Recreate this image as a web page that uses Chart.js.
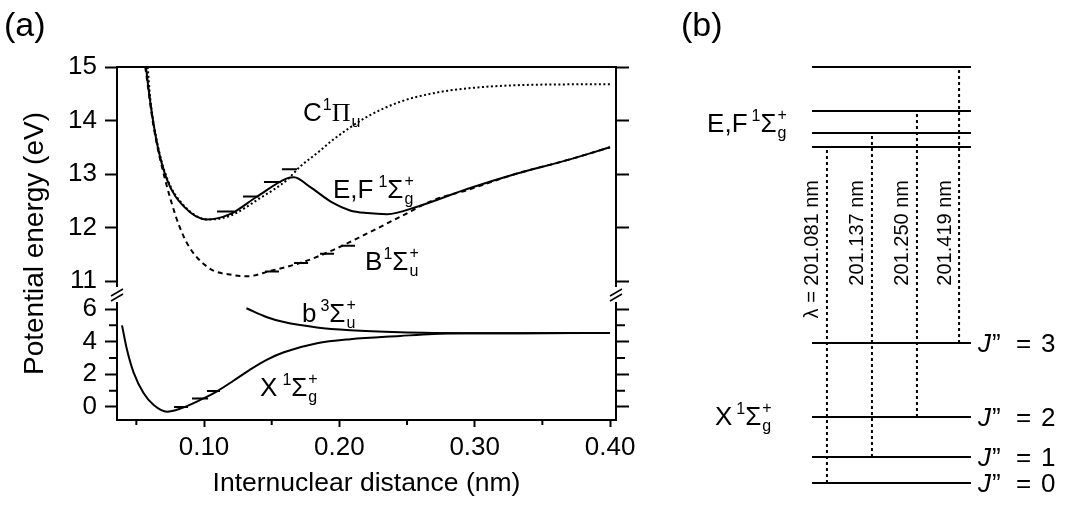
<!DOCTYPE html>
<html>
<head>
<meta charset="utf-8">
<script src="https://cdn.jsdelivr.net/npm/chart.js@4.4.0/dist/chart.umd.min.js"></script>
<style>
  body { margin: 0; background: #fff; }
  #wrap { position: relative; width: 1067px; height: 505px; }
  canvas { position: absolute; top: 0; }
  #curves { left: 0; }
  #levels { left: 680px; }
</style>
</head>
<body>
<div id="wrap">
  <canvas id="curves" width="680" height="505"></canvas>
  <canvas id="levels" width="387" height="505"></canvas>
</div>
<script>
// ---- (a) H2 potential curves: r in nm, energy in eV ----
const efR = [0.0571, 0.0601, 0.0653, 0.0727, 0.0852, 0.1022, 0.1192, 0.1392, 0.1613, 0.1665, 0.1783, 0.1953, 0.2079, 0.2205, 0.2353, 0.2574, 0.2944, 0.3313, 0.3683, 0.4000];
const efE = [15.0, 14.38, 13.57, 12.89, 12.39, 12.15, 12.25, 12.58, 12.92, 12.94, 12.76, 12.46, 12.32, 12.27, 12.25, 12.39, 12.72, 13.01, 13.26, 13.50];

const cR = [0.0584, 0.0603, 0.0653, 0.0727, 0.0852, 0.1030, 0.1192, 0.1414, 0.1613, 0.1710, 0.1835, 0.1953, 0.2205, 0.2449, 0.2693, 0.2944, 0.3313, 0.4000];
const cE = [15.0, 14.40, 13.60, 12.92, 12.41, 12.15, 12.22, 12.55, 12.89, 13.14, 13.39, 13.64, 14.07, 14.35, 14.51, 14.60, 14.66, 14.68];

const bR = [0.0566, 0.0628, 0.0727, 0.0850, 0.1022, 0.1220, 0.1318, 0.1490, 0.1737, 0.1953, 0.2205, 0.2449, 0.2693, 0.2944, 0.3313, 0.3683, 0.4000];
const bE = [15.0, 13.88, 12.76, 11.83, 11.27, 11.11, 11.09, 11.19, 11.36, 11.58, 11.89, 12.20, 12.51, 12.70, 13.01, 13.26, 13.50];

const xR = [0.0394, 0.0431, 0.0480, 0.0554, 0.0628, 0.0727, 0.0825, 0.0973, 0.1096, 0.1220, 0.1343, 0.1466, 0.1590, 0.1835, 0.2081, 0.2449, 0.2693, 0.2944, 0.3313, 0.4000];
const xE = [5.00, 3.50, 2.10, 0.84, 0.12, -0.29, -0.10, 0.43, 0.96, 1.62, 2.30, 2.90, 3.35, 3.90, 4.15, 4.35, 4.47, 4.51, 4.52, 4.53];

const b3R = [0.1313, 0.1466, 0.1590, 0.1835, 0.2081, 0.2449, 0.2693, 0.2944, 0.3313, 0.4000];
const b3E = [6.05, 5.50, 5.20, 4.87, 4.70, 4.57, 4.53, 4.52, 4.52, 4.53];

// vibrational levels: energy and r-span of each mark
const efVibE = [12.30, 12.58, 12.85, 13.09];
const efVibLo = [0.1096, 0.1288, 0.1443, 0.1576];
const efVibHi = [0.1222, 0.1406, 0.1569, 0.1687];
const bVibE = [11.18, 11.34, 11.51, 11.66];
const bVibLo = [0.1451, 0.1665, 0.1857, 0.2013];
const bVibHi = [0.1554, 0.1769, 0.1961, 0.2116];
const xVibE = [0.00, 0.52, 0.98];
const xVibLo = [0.0778, 0.0911, 0.1022];
const xVibHi = [0.0882, 0.1030, 0.1118];

// ---- (b) level scheme (schematic energy units) ----
const lowerJ = [0, 1, 2, 3];
const lowerLevel = [0, 26, 66, 140];
const upperLevel = [336, 350, 372, 416];
const transitionX = [0.094, 0.377, 0.660, 0.925];
const wavelengthNm = ['201.081', '201.137', '201.250', '201.419'];

const family = '"Liberation Sans", Arial, Helvetica, sans-serif';
Chart.defaults.font.family = family;
Chart.defaults.color = '#000';

const pts = (rs, es) => rs.map((r, i) => ({ x: r, y: es[i] }));
const marks = (lo, hi, es) => {
  const out = [];
  es.forEach((e, i) => { out.push({ x: lo[i], y: e }, { x: hi[i], y: e }, { x: hi[i], y: null }); });
  return out;
};

const curve = (data, axis, dash) => ({
  data, yAxisID: axis, xAxisID: 'x',
  borderColor: '#000', borderWidth: 2, borderDash: dash || [],
  pointRadius: 0, cubicInterpolationMode: 'monotone', fill: false
});
const vib = (data, axis) => ({
  data, yAxisID: axis, xAxisID: 'x',
  borderColor: '#000', borderWidth: 2, pointRadius: 0, tension: 0, spanGaps: false
});

// term symbol such as E,F 1Σg+
function drawTerm(ctx, x, y, t, size) {
  const small = Math.round(size * 0.6);
  ctx.textAlign = 'left';
  ctx.textBaseline = 'alphabetic';
  ctx.font = size + 'px ' + family;
  ctx.fillText(t.pre, x, y);
  x += ctx.measureText(t.pre).width + t.gap;
  ctx.font = small + 'px ' + family;
  ctx.fillText(t.mult, x, y - size * 0.42);
  x += ctx.measureText(t.mult).width;
  ctx.font = size + 'px ' + (t.sym === 'Π' ? '"Liberation Serif", serif' : family);
  ctx.fillText(t.sym, x, y);
  x += ctx.measureText(t.sym).width + 1;
  ctx.font = small + 'px ' + family;
  ctx.fillText(t.sub, x, y + size * 0.22);
  if (t.sign) ctx.fillText(t.sign, x, y - size * 0.45);
}

const termLabels = [
  { axis: 'yTop', r: 0.1732, e: 13.99, pre: 'C', gap: 1, mult: '1', sym: 'Π', sub: 'u' },
  { axis: 'yTop', r: 0.1953, e: 12.55, pre: 'E,F', gap: 5, mult: '1', sym: 'Σ', sub: 'g', sign: '+' },
  { axis: 'yTop', r: 0.2190, e: 11.21, pre: 'B', gap: 1, mult: '1', sym: 'Σ', sub: 'u', sign: '+' },
  { axis: 'yBot', r: 0.1724, e: 5.21, pre: 'b', gap: 4, mult: '3', sym: 'Σ', sub: 'u', sign: '+' },
  { axis: 'yBot', r: 0.1414, e: 0.67, pre: 'X', gap: 5, mult: '1', sym: 'Σ', sub: 'g', sign: '+' }
];

const curveExtras = {
  id: 'curveExtras',
  afterDraw(chart) {
    const { ctx, chartArea: a, scales } = chart;
    ctx.save();
    ctx.strokeStyle = '#000';
    ctx.fillStyle = '#000';
    ctx.lineWidth = 2;
    // minor ticks
    ctx.beginPath();
    [1, 3, 5].forEach(v => {
      const y = scales.yBot.getPixelForValue(v);
      ctx.moveTo(a.left - 8, y); ctx.lineTo(a.left, y);
      ctx.moveTo(a.right, y); ctx.lineTo(a.right + 9, y);
    });
    [0.05, 0.15, 0.25, 0.35].forEach(v => {
      const x = scales.x.getPixelForValue(v);
      ctx.moveTo(x, a.bottom); ctx.lineTo(x, a.bottom + 5);
    });
    ctx.stroke();

    // axis break between the two energy ranges
    const yb = scales.yTop.bottom;
    [a.left, a.right].forEach(x => {
      ctx.fillStyle = '#fff';
      ctx.fillRect(x - 3, yb - 8, 6, 15);
      ctx.beginPath();
      ctx.lineWidth = 1.5;
      ctx.moveTo(x - 6, yb + 1); ctx.lineTo(x + 6, yb - 6);
      ctx.moveTo(x - 6, yb + 6); ctx.lineTo(x + 6, yb - 1);
      ctx.stroke();
    });
    ctx.fillStyle = '#000';

    // axis titles and panel letter
    ctx.textAlign = 'center';
    ctx.textBaseline = 'alphabetic';
    ctx.font = '26.5px ' + family;
    ctx.fillText('Internuclear distance (nm)', (a.left + a.right) / 2, 491);
    ctx.save();
    ctx.translate(43, (a.top + a.bottom) / 2);
    ctx.rotate(-Math.PI / 2);
    ctx.font = '28px ' + family;
    ctx.fillText('Potential energy (eV)', 0, 0);
    ctx.restore();
    ctx.textAlign = 'left';
    ctx.font = '34px ' + family;
    ctx.fillText('(a)', 4, 36);

    termLabels.forEach(t => {
      drawTerm(ctx, scales.x.getPixelForValue(t.r), scales[t.axis].getPixelForValue(t.e), t, 26);
    });
    ctx.restore();
  }
};

const axisBase = {
  type: 'linear',
  border: { color: '#000', width: 2 },
  grid: { drawOnChartArea: false, tickWidth: 2, tickColor: '#000' }
};
const tickFont = { size: 26 };

new Chart(document.getElementById('curves'), {
  type: 'line',
  data: {
    datasets: [
      curve(pts(cR, cE), 'yTop', [2, 2.5]),
      curve(pts(bR, bE), 'yTop', [5, 4]),
      curve(pts(efR, efE), 'yTop'),
      curve(pts(xR, xE), 'yBot'),
      curve(pts(b3R, b3E), 'yBot'),
      vib(marks(efVibLo, efVibHi, efVibE), 'yTop'),
      vib(marks(bVibLo, bVibHi, bVibE), 'yTop'),
      vib(marks(xVibLo, xVibHi, xVibE), 'yBot')
    ]
  },
  options: {
    responsive: false,
    animation: false,
    layout: { padding: { top: 67, left: 0, right: 0, bottom: 0 } },
    plugins: { legend: { display: false }, tooltip: { enabled: false } },
    scales: {
      x: {
        ...axisBase, position: 'bottom', min: 0.0357, max: 0.4044,
        grid: { ...axisBase.grid, tickLength: 7 },
        ticks: { stepSize: 0.1, includeBounds: false, autoSkip: false, maxRotation: 0, padding: 5, font: tickFont, callback: v => v.toFixed(2) },
        afterFit: s => { s.height = 85; }
      },
      xTop: {
        ...axisBase, position: 'top', min: 0.0357, max: 0.4044,
        grid: { ...axisBase.grid, drawTicks: false },
        ticks: { display: false },
        afterFit: s => { s.height = 0; }
      },
      yBot: {
        ...axisBase, position: 'left', stack: 'left', stackWeight: 125, min: -0.8, max: 6.86,
        grid: { ...axisBase.grid, tickLength: 12 },
        ticks: { stepSize: 2, includeBounds: false, autoSkip: false, padding: 8, font: tickFont },
        afterFit: s => { s.width = 117; }
      },
      yTop: {
        ...axisBase, position: 'left', stack: 'left', stackWeight: 228, min: 10.74, max: 15,
        grid: { ...axisBase.grid, tickLength: 12 },
        ticks: { stepSize: 1, includeBounds: false, autoSkip: false, padding: 8, font: tickFont },
        afterFit: s => { s.width = 117; }
      },
      rTop: {
        ...axisBase, position: 'right', stack: 'right', stackWeight: 228, min: 10.74, max: 15,
        grid: { ...axisBase.grid, tickLength: 13 },
        ticks: { stepSize: 1, includeBounds: false, autoSkip: false, display: false },
        afterFit: s => { s.width = 64; }
      },
      rBot: {
        ...axisBase, position: 'right', stack: 'right', stackWeight: 125, min: -0.8, max: 6.86,
        grid: { ...axisBase.grid, tickLength: 13 },
        ticks: { stepSize: 2, includeBounds: false, autoSkip: false, display: false },
        afterFit: s => { s.width = 64; }
      }
    }
  },
  plugins: [curveExtras]
});

// ---- (b) ----
const levelPts = [];
lowerLevel.concat(upperLevel).forEach(L => { levelPts.push({ x: 0, y: L }, { x: 1, y: L }, { x: 1, y: null }); });

const levelExtras = {
  id: 'levelExtras',
  afterDraw(chart) {
    const { ctx, chartArea: a, scales } = chart;
    ctx.save();
    ctx.fillStyle = '#000';
    ctx.textBaseline = 'alphabetic';
    ctx.textAlign = 'left';
    ctx.font = '34px ' + family;
    ctx.fillText('(b)', 1, 36);

    drawTerm(ctx, scales.x.getPixelForValue(-0.66), scales.y.getPixelForValue(351),
      { pre: 'E,F', gap: 4, mult: '1', sym: 'Σ', sub: 'g', sign: '+' }, 26);
    drawTerm(ctx, scales.x.getPixelForValue(-0.61), scales.y.getPixelForValue(58),
      { pre: 'X', gap: 4, mult: '1', sym: 'Σ', sub: 'g', sign: '+' }, 26);

    // wavelength of each transition, written upwards
    ctx.font = '20px ' + family;
    wavelengthNm.forEach((w, i) => {
      ctx.save();
      ctx.translate(scales.x.getPixelForValue(transitionX[i]) - 14, scales.y.getPixelForValue(303));
      ctx.rotate(-Math.PI / 2);
      ctx.textAlign = 'right';
      ctx.textBaseline = 'middle';
      ctx.fillText((i === 0 ? 'λ = ' : '') + w + ' nm', 0, 0);
      ctx.restore();
    });

    // rotational quantum numbers of the ground state
    lowerJ.forEach((j, i) => {
      const y = scales.y.getPixelForValue(lowerLevel[i]) + 2;
      ctx.textBaseline = 'middle';
      ctx.font = 'italic 26px ' + family;
      ctx.fillText('J', a.right + 7, y);
      ctx.font = '26px ' + family;
      ctx.fillText('\u201D', a.right + 21, y);
      ctx.fillText('=', a.right + 45, y);
      ctx.fillText(String(j), a.right + 70, y);
    });
    ctx.restore();
  }
};

new Chart(document.getElementById('levels'), {
  type: 'line',
  data: {
    datasets: [
      { data: levelPts, borderColor: '#000', borderWidth: 2, pointRadius: 0, tension: 0, clip: false },
      ...transitionX.map((x, i) => ({
        data: [{ x, y: lowerLevel[i] }, { x, y: upperLevel[i] }],
        borderColor: '#000', borderWidth: 2, borderDash: [3, 3], pointRadius: 0, clip: false
      }))
    ]
  },
  options: {
    responsive: false,
    animation: false,
    layout: { padding: { top: 67, left: 132, right: 96, bottom: 22 } },
    plugins: { legend: { display: false }, tooltip: { enabled: false } },
    scales: {
      x: { type: 'linear', min: 0, max: 1, display: false },
      y: { type: 'linear', min: 0, max: 416, display: false }
    }
  },
  plugins: [levelExtras]
});
</script>
</body>
</html>
